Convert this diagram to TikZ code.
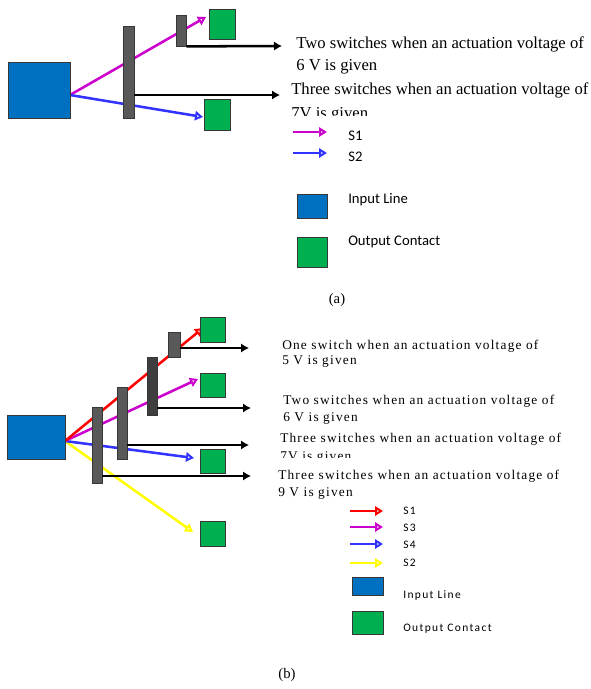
\documentclass[tikz,border=0pt]{standalone}
\usepackage{fontspec}
\setmainfont{Liberation Serif}
\newfontfamily\spserif[LetterSpace=9]{Liberation Serif}
\newfontfamily\legsans{Carlito}
\newfontfamily\spsans[LetterSpace=12]{Carlito}
\usetikzlibrary{arrows.meta,fit}
\definecolor{inblue}{RGB}{0,112,192}
\definecolor{outgreen}{RGB}{0,176,80}
\definecolor{bargray}{RGB}{89,89,89}
\definecolor{bardark}{RGB}{62,62,62}
\definecolor{edgegray}{RGB}{55,55,55}
\definecolor{swmag}{RGB}{204,0,204}
\definecolor{swblue}{RGB}{51,51,255}
\definecolor{swred}{RGB}{255,0,0}
\definecolor{swyel}{RGB}{255,255,0}
\begin{document}
\begin{tikzpicture}[x=0.75pt,y=-0.75pt,
 box/.style={inner sep=0pt, draw=edgegray, line width=0.6pt},
 inbox/.style={box, fill=inblue},
 outbox/.style={box, fill=outgreen},
 bar/.style={box, fill=bargray},
 darkbar/.style={box, fill=bardark},
 sw/.style={line width=1.9pt, -{Triangle[open,length=6pt,width=7pt]}},
 blk/.style={line width=1.9pt, black, -{Latex[length=6pt,width=7pt]}},
 ta/.style={anchor=base west, inner sep=0pt, font=\fontsize{12.5}{15}\selectfont},
 tb/.style={anchor=base west, inner sep=0pt, font=\spserif\fontsize{10}{12}\selectfont},
 la/.style={anchor=west, inner sep=0pt, font=\legsans\fontsize{11}{13}\selectfont},
 lb/.style={anchor=west, inner sep=0pt, font=\spsans\fontsize{8.6}{10}\selectfont},
 captext/.style={inner sep=0pt, font=\fontsize{11}{13}\selectfont}]
\useasboundingbox (0,0) rectangle (590,689);

% ---------------- Panel (a) ----------------
\coordinate (srcA) at (70,95);
\coordinate (tA1) at (206,17);
\coordinate (tA2) at (203,117);
\draw[sw, swmag] (srcA) -- (tA1);
\draw[sw, swblue] (srcA) -- (tA2);
\node[inbox, fit={(8,62)(70,118)}] (inA) {};
\node[bar, fit={(123,26)(134,118)}] (barA1) {};
\node[bar, fit={(176,15)(186,46)}] (barA2) {};
\node[outbox, fit={(209,9)(235,39)}] (outA1) {};
\node[outbox, fit={(204,99)(230,130)}] (outA2) {};
\coordinate (eA1) at (282,46);
\coordinate (eA2) at (280,95);
\draw[blk] (barA2.south east) -- (eA1);
\draw[blk] (barA1.east |- srcA) -- (eA2);

\node[ta] (ta1) at (296,48) {Two switches when an actuation voltage of};
\node[ta] (ta2) at (296,70) {6 V is given};
\node[ta] (ta3) at (291,94) {Three switches when an actuation voltage of};
\begin{scope}
\clip (280,100) rectangle (590,115);
\node[ta] (ta4) at (291,118) {7V is given};
\end{scope}

% legend (a)
\coordinate (lA1s) at (293,132); \coordinate (lA1e) at (327,132);
\coordinate (lA2s) at (293,153); \coordinate (lA2e) at (327,153);
\draw[sw, swmag] (lA1s) -- (lA1e);
\draw[sw, swblue] (lA2s) -- (lA2e);
\node[la] (lS1a) at (348,136) {S1};
\node[la] (lS2a) at (348,157) {S2};
\node[inbox, fit={(297,194)(327,218)}] (legInA) {};
\node[outbox, fit={(297,237)(327,267)}] (legOutA) {};
\node[la] (lInA) at (348,200) {Input Line};
\node[la] (lOutA) at (348,242) {Output Contact};
\node[captext] (capA) at (337,300) {(a)};

% ---------------- Panel (b) ----------------
\coordinate (srcB) at (65,441);
\coordinate (tB1) at (203,328);
\coordinate (tB2) at (198,379);
\coordinate (tB3) at (194,458);
\coordinate (tB4) at (193,532);
\draw[sw, swyel] (srcB) -- (tB4);
\draw[sw, swblue] (srcB) -- (tB3);
\draw[sw, swmag] (srcB) -- (tB2);
\draw[sw, swred] (srcB) -- (tB1);
\node[inbox, fit={(7,415)(65,459)}] (inB) {};
\node[bar, fit={(92,407)(102,483)}] (barB1) {};
\node[bar, fit={(117,387)(127,459)}] (barB2) {};
\node[darkbar, fit={(147,357)(157,415)}] (barB3) {};
\node[bar, fit={(168,332)(180,357)}] (barB4) {};
\node[outbox, fit={(200,317)(225,342)}] (outB1) {};
\node[outbox, fit={(200,373)(225,397)}] (outB2) {};
\node[outbox, fit={(200,449)(225,473)}] (outB3) {};
\node[outbox, fit={(200,521)(225,546)}] (outB4) {};
\coordinate (sB1) at (180,348); \coordinate (eB1) at (249,348);
\coordinate (sB2) at (157,408); \coordinate (eB2) at (251,408);
\coordinate (sB3) at (127,445); \coordinate (eB3) at (249,445);
\coordinate (sB4) at (102,476); \coordinate (eB4) at (251,476);
\draw[blk] (sB1) -- (eB1);
\draw[blk] (sB2) -- (eB2);
\draw[blk] (sB3) -- (eB3);
\draw[blk] (sB4) -- (eB4);

\node[tb] (tb1) at (282,349) {One switch when an actuation voltage of};
\node[tb] (tb2) at (282,364) {5 V is given};
\node[tb] (tb3) at (283,404) {Two switches when an actuation voltage of};
\node[tb] (tb4) at (283,421) {6 V is given};
\node[tb] (tb5) at (280,442) {Three switches when an actuation voltage of};
\begin{scope}
\clip (270,447) rectangle (590,457.5);
\node[tb] (tb6) at (280,460) {7V is given};
\end{scope}
\node[tb] (tb7) at (278,479) {Three switches when an actuation voltage of};
\node[tb] (tb8) at (278,496) {9 V is given};

% legend (b)
\coordinate (lB1s) at (350,511); \coordinate (lB1e) at (383,511);
\coordinate (lB2s) at (350,527); \coordinate (lB2e) at (383,527);
\coordinate (lB3s) at (350,544); \coordinate (lB3e) at (383,544);
\coordinate (lB4s) at (350,563); \coordinate (lB4e) at (383,563);
\draw[sw, swred] (lB1s) -- (lB1e);
\draw[sw, swmag] (lB2s) -- (lB2e);
\draw[sw, swblue] (lB3s) -- (lB3e);
\draw[sw, swyel] (lB4s) -- (lB4e);
\node[lb] (lS1b) at (403,511) {S1};
\node[lb] (lS3b) at (403,528) {S3};
\node[lb] (lS4b) at (403,545) {S4};
\node[lb] (lS2b) at (403,563) {S2};
\node[inbox, fit={(352,577)(383,595)}] (legInB) {};
\node[outbox, fit={(352,611)(383,634)}] (legOutB) {};
\node[lb] (lInB) at (403,595) {Input Line};
\node[lb] (lOutB) at (403,629) {Output Contact};
\node[captext] (capB) at (287,675) {(b)};
\end{tikzpicture}
\end{document}
